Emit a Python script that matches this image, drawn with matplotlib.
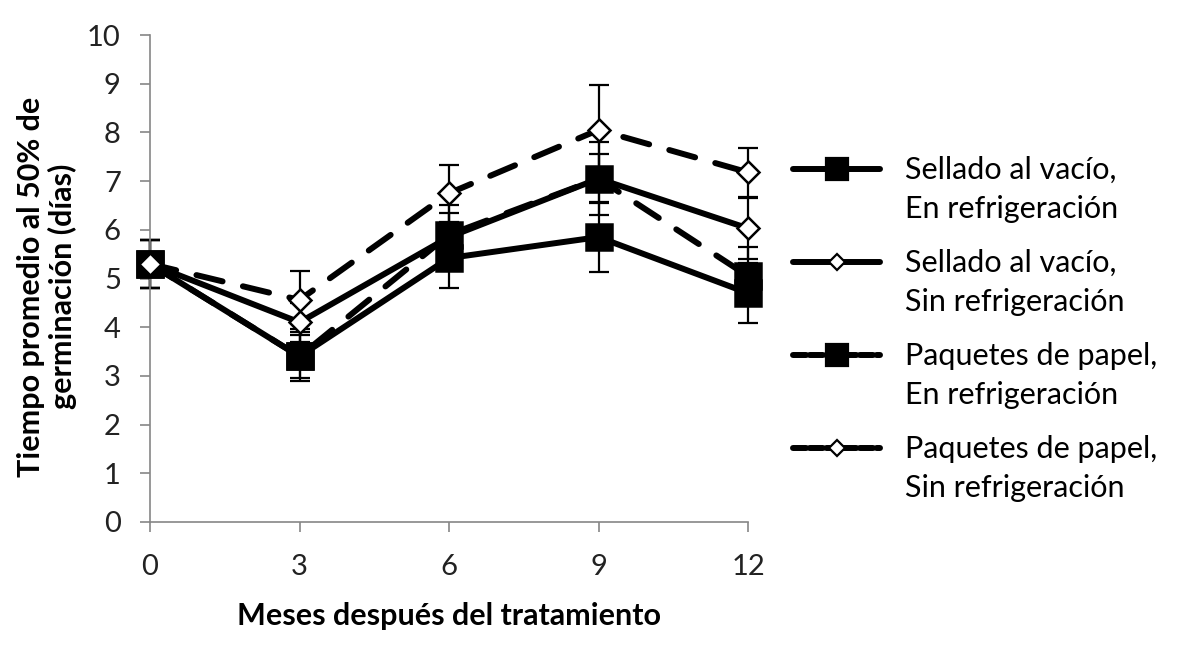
import numpy as np
import matplotlib
matplotlib.use("Agg")
import matplotlib.pyplot as plt
from matplotlib.lines import Line2D
from matplotlib.legend_handler import HandlerLine2D

plt.rcParams['font.family'] = ['Lato', 'DejaVu Sans']

meses = [0, 3, 6, 9, 12]
labels = ["Sellado al vacío,\nEn refrigeración",
          "Sellado al vacío,\nSin refrigeración",
          "Paquetes de papel,\nEn refrigeración",
          "Paquetes de papel,\nSin refrigeración"]

vacio_ref = [5.3, 3.4, 5.42, 5.85, 4.7]
vacio_ref_err = [0.5, 0.45, 0.62, 0.72, 0.62]
vacio_sin = [5.3, 4.1, 5.85, 7.05, 6.03]
vacio_sin_err = [0.5, 0.4, 0.5, 0.5, 0.62]
papel_ref = [5.3, 3.4, 5.9, 7.05, 5.05]
papel_ref_err = [0.5, 0.5, 0.6, 0.75, 0.6]
papel_sin = [5.3, 4.56, 6.75, 8.05, 7.18]
papel_sin_err = [0.5, 0.6, 0.58, 0.92, 0.5]

series = [(vacio_ref, vacio_ref_err, '-', 's'),
          (vacio_sin, vacio_sin_err, '-', 'D'),
          (papel_ref, papel_ref_err, '--', 's'),
          (papel_sin, papel_sin_err, '--', 'D')]


# legend handle sits on the first line of a two line label
class TopLine(HandlerLine2D):
    def create_artists(self, *args, **kwargs):
        arts = super().create_artists(*args, **kwargs)
        for a in arts:
            a.set_ydata(np.asarray(a.get_ydata()) + 15.5)
        return arts


fig = plt.figure(figsize=(12, 6.64), dpi=100)
ax = fig.add_axes([150/1200, 1-522/664, 598/1200, 487/664])

for vals, err, ls, mk in series:
    eb = ax.errorbar(meses, vals, yerr=err, fmt='none', ecolor='black',
                     elinewidth=1.6, capsize=7, capthick=1.6, zorder=2)
    for c in eb.get_children():
        c.set_clip_on(False)

handles = []
for vals, err, ls, mk in series:
    ms = 19 if mk == 's' else 11.5
    kw = dict(color='black', lw=4.3, marker=mk, markersize=ms,
              markerfacecolor='black' if mk == 's' else 'white',
              markeredgecolor='black', markeredgewidth=1.8,
              solid_capstyle='round', zorder=3)
    if ls == '--':
        kw.update(dashes=(4.5, 3.5), dash_capstyle='round')
    ax.plot(meses, vals, clip_on=False, **kw)
    hkw = dict(kw)
    hkw['markersize'] = 16 if mk == 's' else 8.5
    hkw['markeredgewidth'] = 1.6
    if ls == '--':
        hkw['dashes'] = (2.2, 0.6)
    handles.append(Line2D([], [], **hkw))

ax.set_xlim(0, 12)
ax.set_ylim(0, 10)
ax.set_xticks(meses)
ax.set_yticks(range(0, 11))
for s in ['top', 'right']:
    ax.spines[s].set_visible(False)
for s in ['left', 'bottom']:
    ax.spines[s].set_color('#868686')
    ax.spines[s].set_linewidth(1.2)
ax.tick_params(direction='out', length=7, width=1.2, color='#868686',
               labelsize=21, labelcolor='#222222')
ax.tick_params(axis='y', pad=14)
ax.tick_params(axis='x', pad=16)

ax.set_xlabel("Meses después del tratamiento", fontsize=22, fontweight='bold')
ax.xaxis.set_label_coords(0.5, -0.165)
ax.set_ylabel("Tiempo promedio al 50% de\ngerminación (días)", fontsize=22,
              fontweight='bold', linespacing=1.15, va='center')
ax.yaxis.set_label_coords(-0.172, 0.483)

leg = fig.legend(handles, labels, loc='upper left',
                 bbox_to_anchor=(793/1200, 1-156/664),
                 handler_map={Line2D: TopLine()},
                 frameon=False, fontsize=22, handlelength=2.85, handletextpad=0.8,
                 labelspacing=0.85, borderaxespad=0, borderpad=0)
for t in leg.get_texts():
    t.set_linespacing(1.48)

fig.savefig("out.png", dpi=100)
